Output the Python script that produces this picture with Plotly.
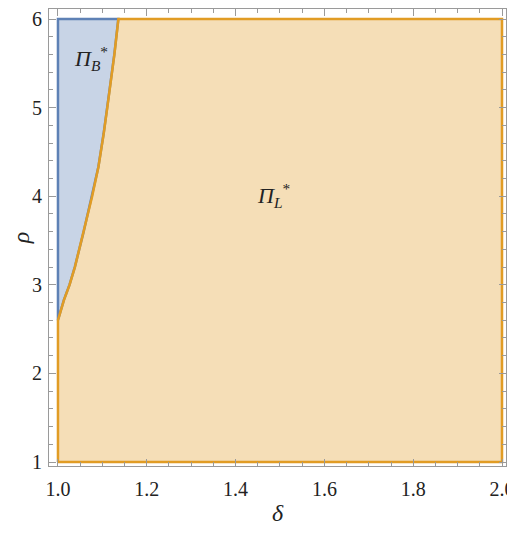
import plotly.graph_objects as go

# boundary curve between the two regions
rho_curve = [2.6, 2.83, 3.0, 3.2, 3.58, 4.0, 4.33, 4.71, 5.0, 5.2, 5.6, 6.0]
delta_curve = [1.0, 1.0135, 1.026, 1.038, 1.057, 1.077, 1.091, 1.103, 1.111, 1.117, 1.127, 1.136]

delta_min, delta_max = 1.0, 2.0
rho_min, rho_max = 1.0, 6.0

blue = "#5E81B5"
orange = "#E19C24"

# region Pi_B* : left of the curve
xb = [delta_min] + delta_curve + [delta_min, delta_min]
yb = [rho_curve[0]] + rho_curve + [rho_max, rho_curve[0]]

# region Pi_L* : right of the curve
xl = [delta_min, delta_max, delta_max] + delta_curve[::-1] + [delta_min]
yl = [rho_min, rho_min, rho_max] + rho_curve[::-1] + [rho_min]

fig = go.Figure()
fig.add_trace(go.Scatter(x=xb, y=yb, mode="lines", fill="toself",
                         fillcolor="rgba(94,129,181,0.34)",
                         line=dict(color=blue, width=2.5), hoverinfo="skip"))
fig.add_trace(go.Scatter(x=xl, y=yl, mode="lines", fill="toself",
                         fillcolor="rgba(225,156,36,0.33)",
                         line=dict(color=orange, width=2.5), hoverinfo="skip"))

serif = "Liberation Serif, Times New Roman, serif"
fig.add_annotation(x=1.074, y=5.56, text="<i>Π</i><sub><i>B</i></sub><sup>*</sup>",
                   showarrow=False, font=dict(family=serif, size=22, color="#222"))
fig.add_annotation(x=1.485, y=4.01, text="<i>Π</i><sub><i>L</i></sub><sup>*</sup>",
                   showarrow=False, font=dict(family=serif, size=22, color="#222"))

axis_common = dict(showline=True, linecolor="#9a9a9a", linewidth=1, mirror="allticks",
                   ticks="inside", ticklen=7, tickcolor="#9a9a9a", showgrid=False,
                   zeroline=False, automargin=False, ticklabeloverflow="allow",
                   tickfont=dict(family=serif, size=20, color="#222"))

fig.update_xaxes(range=[0.9798, 2.009], tickvals=[1.0, 1.2, 1.4, 1.6, 1.8, 2.0],
                 ticktext=["1.0", "1.2", "1.4", "1.6", "1.8", "2.0"], ticklabelstandoff=5,
                 minor=dict(ticks="inside", ticklen=4, tickcolor="#9a9a9a", dtick=0.05, tick0=1.0),
                 title=dict(text="<i>δ</i>", font=dict(family=serif, size=24, color="#222"), standoff=8),
                 **axis_common)
fig.update_yaxes(range=[0.955, 6.113], tickvals=[1, 2, 3, 4, 5, 6], ticklabelstandoff=2,
                 minor=dict(ticks="inside", ticklen=4, tickcolor="#9a9a9a", dtick=0.2, tick0=1.0),
                 title=dict(text="<i>ρ</i>", font=dict(family=serif, size=24, color="#222"), standoff=15),
                 **axis_common)

# the page body has an 8px margin, so the figure is shrunk by that much
fig.update_layout(width=507, height=518, margin=dict(l=41, r=9, t=1, b=60),
                  font=dict(family=serif, size=20, color="#222"),
                  plot_bgcolor="white", paper_bgcolor="white", showlegend=False)

fig.write_html("out.html")
